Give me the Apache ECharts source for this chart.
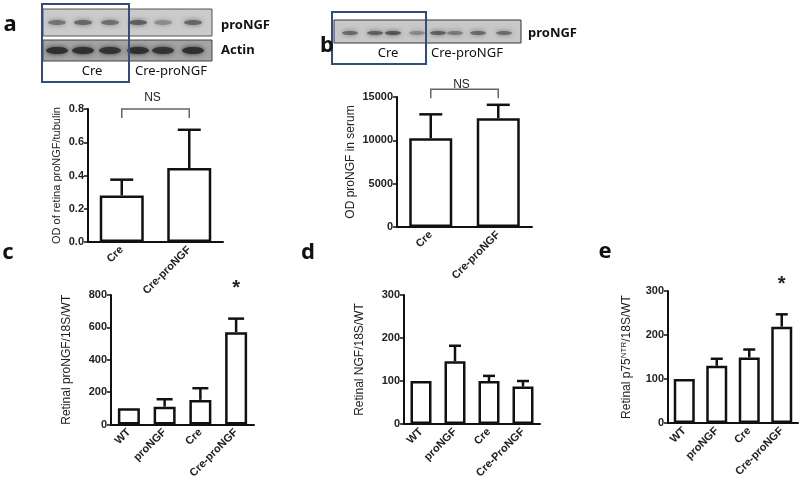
<!DOCTYPE html>
<html>
<head>
<meta charset="utf-8">
<script src="https://cdn.jsdelivr.net/npm/echarts@6/dist/echarts.min.js"></script>
<style>
  html, body { margin: 0; padding: 0; background: #fff; }
  #main { width: 800px; height: 481px; }
</style>
</head>
<body>
<div id="main"></div>
<script>
// ---- data ----
// a: retina western blot densitometry
var catA = ['Cre', 'Cre-proNGF'];
var meanA = [0.28, 0.445];
var semA = [0.095, 0.23];
var nsA = 0.8;            // level of the NS bracket

// b: serum proNGF
var catB = ['Cre', 'Cre-proNGF'];
var meanB = [10250, 12550];
var semB = [2750, 1550];
var nsB = 15900;

// c: retinal proNGF mRNA
var catC = ['WT', 'proNGF', 'Cre', 'Cre-proNGF'];
var meanC = [100, 110, 152, 570];
var semC = [0, 46, 72, 84];
var sigC = ['', '', '', '*'];

// d: retinal NGF mRNA
var catD = ['WT', 'proNGF', 'Cre', 'Cre-ProNGF'];
var meanD = [100, 146, 100, 87];
var semD = [0, 36, 12, 13];
var sigD = ['', '', '', ''];

// e: retinal p75NTR mRNA
var catE = ['WT', 'proNGF', 'Cre', 'Cre-proNGF'];
var meanE = [100, 130, 149, 219];
var semE = [0, 16, 18, 28];
var sigE = ['', '', '', '*'];

(function(echarts) {
    var FONT = 'Liberation Sans, Arial, sans-serif';
    var CAL = 'Noto Sans, Open Sans, sans-serif';
    var chart = echarts.init(document.getElementById('main'));

    // plot areas of the five small panels
    var grids = [
        { left: 88, top: 109, width: 135, height: 133 },
        { left: 397, top: 97, width: 135, height: 130 },
        { left: 111, top: 295, width: 143, height: 133 },
        { left: 404, top: 295, width: 136, height: 133 },
        { left: 668, top: 291, width: 130, height: 132 }
    ];

    function catAxis(gi, data) {
        return {
            type: 'category',
            gridIndex: gi,
            data: data,
            axisLine: { lineStyle: { color: '#111', width: 2 } },
            axisTick: { alignWithLabel: true, length: 4, lineStyle: { color: '#111', width: 1.5 } },
            axisLabel: { rotate: 45, fontSize: 11, fontWeight: 'bold', color: '#222', margin: 6, fontFamily: FONT }
        };
    }

    function valAxis(gi, max, interval, name, gap, nameSize, fmt) {
        return {
            type: 'value',
            gridIndex: gi,
            min: 0,
            max: max,
            interval: interval,
            name: name,
            nameLocation: 'middle',
            nameRotate: 90,
            nameGap: gap,
            nameTextStyle: {
                fontSize: nameSize, color: '#222', fontFamily: FONT,
                rich: {
                    sup: { fontSize: 8, color: '#222', fontFamily: FONT, verticalAlign: 'top', padding: [0, 0, 6, 0] }
                }
            },
            splitLine: { show: false },
            axisLine: { show: true, lineStyle: { color: '#111', width: 2 } },
            axisTick: { show: true, length: 4, lineStyle: { color: '#111', width: 1.5 } },
            axisLabel: { fontSize: 11, fontWeight: 'bold', color: '#222', margin: 4, fontFamily: FONT,
                formatter: fmt || function(v) { return String(v); } }
        };
    }

    function barSeries(gi, data, width) {
        return {
            type: 'bar',
            xAxisIndex: gi,
            yAxisIndex: gi,
            data: data,
            barWidth: width,
            itemStyle: { color: '#fff', borderColor: '#111', borderWidth: 2.5 },
            z: 3
        };
    }

    // one sided error bars (mean -> mean + sem) plus significance marks
    function errSeries(gi, mean, sem, capW, sig) {
        return {
            type: 'custom',
            xAxisIndex: gi,
            yAxisIndex: gi,
            z: 2,
            data: mean.map(function(m, i) { return [i, m, sem[i]]; }),
            renderItem: function(params, api) {
                var x = api.value(0), m = api.value(1), s = api.value(2);
                var p0 = api.coord([x, m]);
                var p1 = api.coord([x, m + s]);
                var kids = [];
                if (s > 0) {
                    kids.push({ type: 'line', shape: { x1: p0[0], y1: p0[1], x2: p1[0], y2: p1[1] },
                        style: { stroke: '#111', lineWidth: 2.5 } });
                    kids.push({ type: 'line', shape: { x1: p1[0] - capW / 2, y1: p1[1], x2: p1[0] + capW / 2, y2: p1[1] },
                        style: { stroke: '#111', lineWidth: 2.5 } });
                }
                if (sig && sig[params.dataIndex]) {
                    kids.push({ type: 'text', x: p1[0], y: p1[1] - 30,
                        style: { text: sig[params.dataIndex], fontSize: 20, fontWeight: 'bold', fill: '#222',
                            fontFamily: FONT, align: 'center', verticalAlign: 'middle' } });
                }
                return { type: 'group', children: kids };
            }
        };
    }

    // "NS" bracket between the two bars
    function nsSeries(gi, level, textGap) {
        return {
            type: 'custom',
            xAxisIndex: gi,
            yAxisIndex: gi,
            data: [[0, level]],
            renderItem: function(params, api) {
                var a = api.coord([0, api.value(1)]);
                var b = api.coord([1, api.value(1)]);
                var pts = [[a[0], a[1] + 9], [a[0], a[1]], [b[0], b[1]], [b[0], b[1] + 9]];
                return { type: 'group', children: [
                    { type: 'polyline', shape: { points: pts }, style: { stroke: '#666', lineWidth: 1.5, fill: null } },
                    { type: 'text', x: (a[0] + b[0]) / 2 - 3, y: a[1] - textGap,
                        style: { text: 'NS', fontSize: 12, fill: '#222', fontFamily: FONT, align: 'center', verticalAlign: 'middle' } }
                ] };
            }
        };
    }

    // western blot strips, drawn as plain shapes
    function bands(xs, y, rx, ry, color, ops) {
        return xs.map(function(x, i) {
            return { type: 'ellipse', shape: { cx: x, cy: y, rx: rx, ry: ry },
                style: { fill: color, opacity: ops[i], shadowBlur: 5, shadowColor: color }, z: 10 };
        });
    }

    function txt(x, y, s, size, weight, align) {
        return { type: 'text', x: x, y: y, z: 20,
            style: { text: s, fontSize: size, fontWeight: weight || 'normal', fill: '#111', fontFamily: CAL,
                align: align || 'center', verticalAlign: 'middle' } };
    }

    var blotA = [
        { type: 'rect', shape: { x: 43, y: 9, width: 169, height: 27 }, style: { fill: '#cbcbcb', stroke: '#555', lineWidth: 1 }, z: 5 },
        { type: 'rect', shape: { x: 43, y: 40, width: 169, height: 21 }, style: { fill: '#a4a4a4', stroke: '#444', lineWidth: 1 }, z: 5 }
    ].concat(
        bands([57, 83, 110, 138, 163, 193], 22.5, 9, 2.5, '#555', [0.6, 0.75, 0.65, 0.85, 0.4, 0.75]),
        bands([57, 83, 110, 138, 163, 193], 50.5, 11, 3.5, '#2b2b2b', [0.9, 0.9, 0.85, 0.9, 0.85, 0.9]),
        [
            { type: 'rect', shape: { x: 42, y: 4, width: 87, height: 78 }, style: { fill: null, stroke: '#2f4d7e', lineWidth: 2 }, z: 15 },
            txt(221, 25, 'proNGF', 13, 'bold', 'left'),
            txt(221, 50, 'Actin', 13, 'bold', 'left'),
            txt(92, 71, 'Cre', 13),
            txt(171, 71, 'Cre-proNGF', 13)
        ]
    );

    var blotB = [
        { type: 'rect', shape: { x: 334, y: 20, width: 187, height: 23 }, style: { fill: '#c8c8c8', stroke: '#333', lineWidth: 1 }, z: 5 }
    ].concat(
        bands([350, 375, 393, 417, 438, 455, 478, 504], 33, 8, 2, '#4a4a4a', [0.65, 0.75, 0.85, 0.4, 0.75, 0.5, 0.65, 0.6]),
        [
            { type: 'rect', shape: { x: 332, y: 12, width: 94, height: 52 }, style: { fill: null, stroke: '#2f4d7e', lineWidth: 2 }, z: 15 },
            txt(528, 33, 'proNGF', 13, 'bold', 'left'),
            txt(388, 53, 'Cre', 13),
            txt(467, 53, 'Cre-proNGF', 13)
        ]
    );

    var letters = [
        txt(10, 25, 'a', 22, 'bold'),
        txt(327, 46, 'b', 22, 'bold'),
        txt(8, 253, 'c', 22, 'bold'),
        txt(308, 253, 'd', 22, 'bold'),
        txt(605, 252, 'e', 22, 'bold')
    ];

    var fmt1 = function(v) { return v.toFixed(1); };

    var option = {
        animation: false,
        backgroundColor: '#fff',
        grid: grids,
        xAxis: [catAxis(0, catA), catAxis(1, catB), catAxis(2, catC), catAxis(3, catD), catAxis(4, catE)],
        yAxis: [
            valAxis(0, 0.8, 0.2, 'OD of retina proNGF/tubulin', 26, 11, fmt1),
            valAxis(1, 15000, 5000, 'OD proNGF in serum', 40, 12),
            valAxis(2, 800, 200, 'Retinal proNGF/18S/WT', 38, 12),
            valAxis(3, 300, 100, 'Retinal NGF/18S/WT', 38, 12),
            valAxis(4, 300, 100, 'Retinal p75{sup|NTR}/18S/WT', 34, 12)
        ],
        series: [
            barSeries(0, meanA, 44), errSeries(0, meanA, semA, 23), nsSeries(0, nsA, 11),
            barSeries(1, meanB, 43), errSeries(1, meanB, semB, 23), nsSeries(1, nsB, 5),
            barSeries(2, meanC, 22), errSeries(2, meanC, semC, 16, sigC),
            barSeries(3, meanD, 21), errSeries(3, meanD, semD, 12, sigD),
            barSeries(4, meanE, 21), errSeries(4, meanE, semE, 12, sigE)
        ],
        graphic: blotA.concat(blotB, letters)
    };

    chart.setOption(option);
}(echarts));
</script>
</body>
</html>
